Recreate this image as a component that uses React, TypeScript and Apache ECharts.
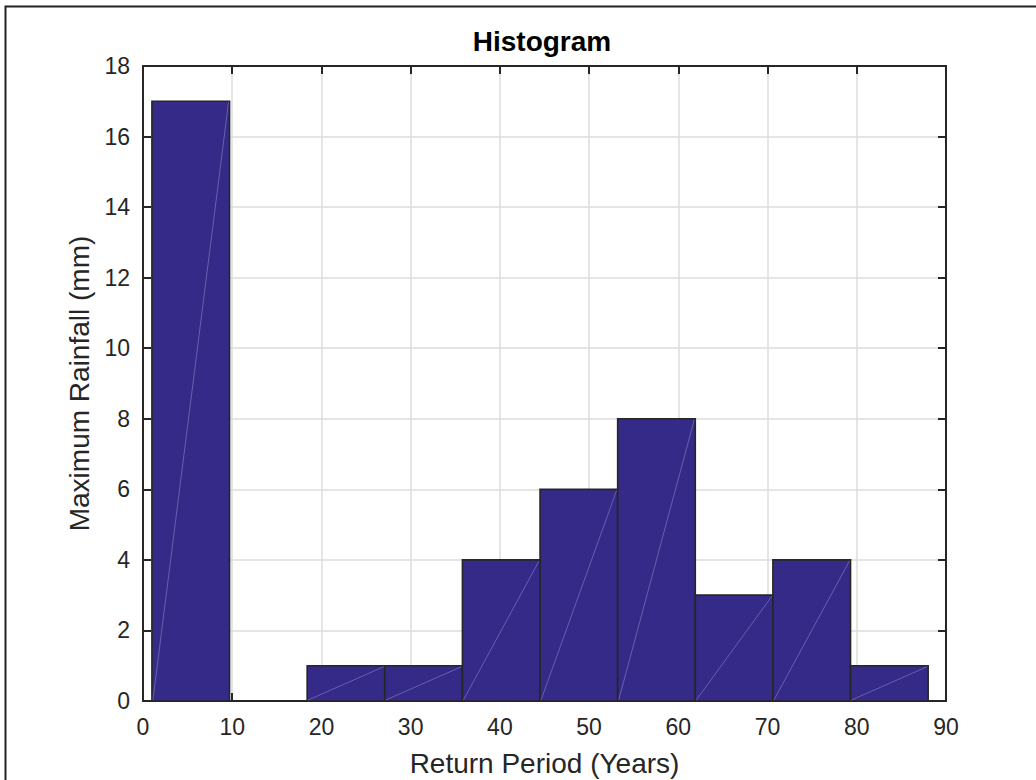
import React, { useEffect, useRef } from "react";
import * as echarts from "echarts";

const binEdges = [1.0, 9.7, 18.4, 27.1, 35.8, 44.5, 53.2, 61.9, 70.6, 79.3, 88.0];
const counts = [17, 0, 1, 1, 4, 6, 8, 3, 4, 1];
const xTicks = [0, 10, 20, 30, 40, 50, 60, 70, 80, 90];
const yTicks = [0, 2, 4, 6, 8, 10, 12, 14, 16, 18];
const titleText = "Histogram";
const xName = "Return Period (Years)";
const yName = "Maximum Rainfall (mm)";

const FONT = "'Liberation Sans', Arial, Helvetica, sans-serif";
const TXT = "#262626";
const GRID = "#dcdcdc";
const BAR = "#352a87";

export default function App() {
  const ref = useRef<HTMLDivElement>(null);
  useEffect(() => {
    if (!ref.current) return;
    const chart = echarts.init(ref.current, undefined, { renderer: "svg" });
    const data = counts.map((c, i) => [binEdges[i], binEdges[i + 1], c]);
    const axisCommon = {
      type: "value" as const,
      axisLine: { show: true, onZero: false, lineStyle: { color: TXT, width: 2 } },
      axisTick: { show: true, inside: true, length: 8, lineStyle: { color: TXT, width: 2 } },
    };
    chart.setOption({
      animation: false,
      backgroundColor: "#ffffff",
      textStyle: { fontFamily: FONT },
      title: {
        text: titleText,
        left: 537,
        top: 22,
        textAlign: "center",
        textStyle: { fontFamily: FONT, fontWeight: "bold", fontSize: 28, color: "#000" },
      },
      graphic: [
        {
          type: "rect",
          shape: { x: 5.5, y: 6.5, width: 1100, height: 900 },
          style: { fill: "none", stroke: "#222", lineWidth: 2 },
          silent: true,
          z: -1,
        },
      ],
      grid: { left: 143, right: 90, top: 66, bottom: 79, outerBoundsMode: "none", containLabel: false },
      xAxis: [
        {
          ...axisCommon,
          min: xTicks[0],
          max: xTicks[xTicks.length - 1],
          interval: 10,
          position: "bottom",
          name: xName,
          nameLocation: "middle",
          nameGap: 48,
          nameTextStyle: { fontFamily: FONT, fontSize: 28, color: TXT },
          axisLabel: { fontFamily: FONT, fontSize: 23, color: TXT, margin: 14 },
          splitLine: { show: true, lineStyle: { color: GRID, width: 1.5 } },
        },
        {
          ...axisCommon,
          min: xTicks[0],
          max: xTicks[xTicks.length - 1],
          interval: 10,
          position: "top",
          axisLabel: { show: false },
          splitLine: { show: false },
        },
      ],
      yAxis: [
        {
          ...axisCommon,
          min: yTicks[0],
          max: yTicks[yTicks.length - 1],
          interval: 2,
          position: "left",
          name: yName,
          nameLocation: "middle",
          nameGap: 46,
          nameTextStyle: { fontFamily: FONT, fontSize: 28, color: TXT },
          axisLabel: { fontFamily: FONT, fontSize: 23, color: TXT, margin: 13 },
          splitLine: { show: true, lineStyle: { color: GRID, width: 1.5 } },
        },
        {
          ...axisCommon,
          min: yTicks[0],
          max: yTicks[yTicks.length - 1],
          interval: 2,
          position: "right",
          axisLabel: { show: false },
          splitLine: { show: false },
        },
      ],
      series: [
        {
          type: "custom",
          xAxisIndex: 0,
          yAxisIndex: 0,
          data,
          z: 3,
          renderItem: (params: any, api: any) => {
            const p0 = api.coord([api.value(0), 0]);
            const p1 = api.coord([api.value(1), api.value(2)]);
            const x = p0[0];
            const y = p1[1];
            const w = p1[0] - p0[0];
            const h = p0[1] - p1[1];
            const children: any[] = [
              {
                type: "rect",
                shape: { x, y, width: w, height: h },
                style: { fill: BAR, stroke: TXT, lineWidth: 1.6 },
              },
            ];
            if (h > 0) {
              children.push({
                type: "line",
                shape: { x1: x + 1, y1: p0[1] - 1, x2: p1[0] - 1, y2: y + 1 },
                style: { stroke: "rgba(200,195,240,0.5)", lineWidth: 0.7 },
              });
            }
            return { type: "group", children };
          },
        },
      ],
    });
    return () => chart.dispose();
  }, []);
  return (
    <div
      ref={ref}
      style={{ position: "fixed", left: 0, top: 0, width: 1036, height: 780, background: "#fff" }}
    />
  );
}
